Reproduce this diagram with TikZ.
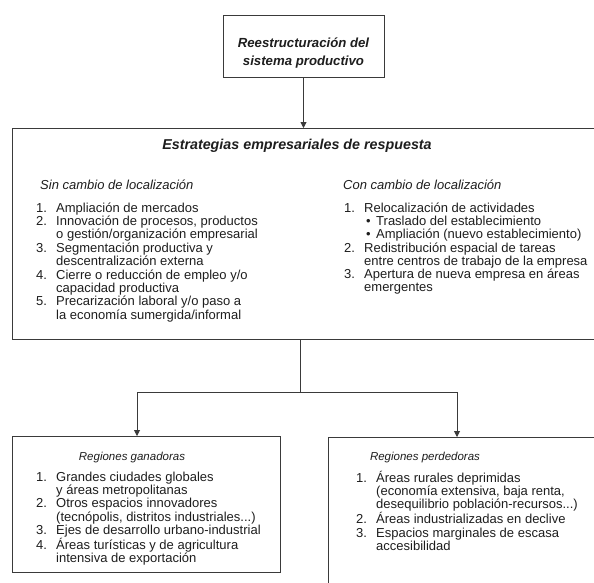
\documentclass[tikz,border=0pt]{standalone}
\usepackage{fontspec}
\setmainfont{Liberation Sans}
\usetikzlibrary{arrows.meta}

\definecolor{ink}{HTML}{1E1E1E}
\definecolor{rule}{HTML}{3A3A3A}

% number column and bullet helpers for the lists
\newcommand{\numit}[1]{\makebox[20pt][l]{#1}}
\newcommand{\contit}{\hspace*{20pt}}
\newcommand{\bulit}{\hspace*{22pt}\makebox[10pt][l]{\textbullet}}

\begin{document}
\begin{tikzpicture}[x=1pt,y=-1pt,
  box/.style={draw=rule, line width=0.9pt, inner sep=0pt, outer sep=0pt},
  txt/.style={font=\fontsize{13}{12.8}\selectfont, text=ink, inner sep=0pt, anchor=base west},
  head/.style={font=\fontsize{13}{12.8}\selectfont\itshape, text=ink, inner sep=0pt, anchor=base},
  subhead/.style={font=\fontsize{11.5}{12}\selectfont\itshape, text=ink, inner sep=0pt, anchor=base},
  arr/.style={draw=rule, line width=0.9pt, -{Triangle[width=6pt,length=6pt]}},
  link/.style={draw=rule, line width=0.9pt}]

\clip (0,0) rectangle (594,582);
\fill[white] (0,0) rectangle (594,582);

% boxes
\node[box, minimum width=161pt, minimum height=62pt] (top) at (303.5,46) {};
\node[box, minimum width=598pt, minimum height=211pt] (big) at (311,233.5) {};
\node[box, minimum width=268pt, minimum height=136pt] (win) at (146,504) {};
\node[box, minimum width=282pt, minimum height=163pt] (lose) at (469,518.5) {};

% top box text
\node[font=\fontsize{13.2}{18}\selectfont\bfseries\itshape, text=ink, inner sep=0pt, anchor=base] (toptxt) at (303.5,47)
  {\begin{tabular}[t]{@{}c@{}}Reestructuración del\\ sistema productivo\end{tabular}};

% main box
\node[font=\fontsize{14.3}{14}\selectfont\bfseries\itshape, text=ink, inner sep=0pt, anchor=base] (bigtitle) at (297,149)
  {Estrategias empresariales de respuesta};

\node[head, anchor=base west] (sinhead) at (40,189) {Sin cambio de localización};
\node[txt] (sinlist) at (36,212) {\begin{tabular}[t]{@{}l@{}}
\numit{1.}Ampliación de mercados\\
\numit{2.}Innovación de procesos, productos\\
\contit o gestión/organización empresarial\\
\numit{3.}Segmentación productiva y\\
\contit descentralización externa\\
\numit{4.}Cierre o reducción de empleo y/o\\
\contit capacidad productiva\\
\numit{5.}Precarización laboral y/o paso a\\
\contit la economía sumergida/informal
\end{tabular}};

\node[head, anchor=base west] (conhead) at (343,189) {Con cambio de localización};
\node[txt] (conlist) at (344,212) {\begin{tabular}[t]{@{}l@{}}
\numit{1.}Relocalización de actividades\\
\bulit Traslado del establecimiento\\
\bulit Ampliación (nuevo establecimiento)\\
\numit{2.}Redistribución espacial de tareas\\
\contit entre centros de trabajo de la empresa\\
\numit{3.}Apertura de nueva empresa en áreas\\
\contit emergentes
\end{tabular}};

% lower boxes
\node[subhead] (winhead) at (132,460) {Regiones ganadoras};
\node[txt] (winlist) at (36,481) {\begin{tabular}[t]{@{}l@{}}
\numit{1.}Grandes ciudades globales\\
\contit y áreas metropolitanas\\
\numit{2.}Otros espacios innovadores\\
\contit (tecnópolis, distritos industriales...)\\
\numit{3.}Ejes de desarrollo urbano-industrial\\
\numit{4.}Áreas turísticas y de agricultura\\
\contit intensiva de exportación
\end{tabular}};

\node[subhead] (losehead) at (425,460) {Regiones perdedoras};
\node[txt] (loselist) at (356,482) {\begin{tabular}[t]{@{}l@{}}
\numit{1.}Áreas rurales deprimidas\\
\contit (economía extensiva, baja renta,\\
\contit desequilibrio población-recursos...)\\
\numit{2.}Áreas industrializadas en declive\\
\numit{3.}Espacios marginales de escasa\\
\contit accesibilidad
\end{tabular}};

% connectors
\coordinate (split) at (300,392);
\coordinate (jl) at (137,392);
\coordinate (jr) at (457,392);
\draw[arr] (top.south) -- (top.south |- big.north);
\draw[link] (split |- big.south) -- (split);
\draw[link] (jl) -- (jr);
\draw[arr] (jl) -- (jl |- win.north);
\draw[arr] (jr) -- (jr |- lose.north);
\end{tikzpicture}
\end{document}
